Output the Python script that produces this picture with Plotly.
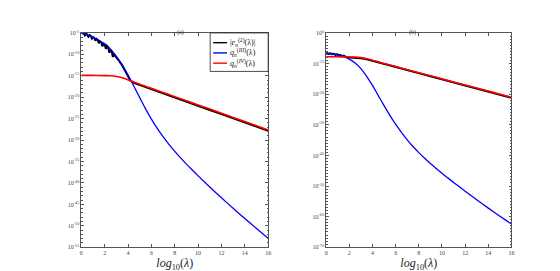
import plotly.graph_objects as go

# ---------------- data (log10 values) ----------------
# Panel (a)
a_x_blue = [0, 0.5, 1, 1.5, 2, 2.5, 3, 3.5, 4, 4.5, 5, 5.5, 6, 6.5, 7, 7.5, 8, 8.5,
            9, 9.5, 10, 10.5, 11, 11.5, 12, 12.5, 13, 13.5, 14, 14.5, 15, 15.5, 16]
a_log_q3 = [-5.10, -5.50, -6.05, -6.70, -7.55, -8.80, -10.45, -12.45, -14.85, -17.45,
            -20.10, -22.70, -25.10, -27.25, -29.20, -30.98, -32.62, -34.15, -35.60,
            -36.99, -38.34, -39.66, -40.95, -42.22, -43.47, -44.70, -45.91, -47.10,
            -48.27, -49.44, -50.61, -51.77, -52.92]

a_x_red = [0, 1, 2, 2.5, 3, 3.5, 4, 4.5, 5, 6, 7, 8, 9, 10, 11, 12, 13, 14, 15, 16]
a_log_q4 = [-14.9, -14.9, -14.95, -15.0, -15.15, -15.45, -15.95, -16.45, -16.95, -17.92,
            -18.89, -19.86, -20.83, -21.80, -22.77, -23.74, -24.71, -25.68, -26.65, -27.62]

a_x_black = [0, 0.1, 0.2, 0.3, 0.4, 0.5, 0.6, 0.7, 0.8, 0.9, 1.0, 1.1, 1.2, 1.3, 1.4, 1.5,
             1.6, 1.7, 1.8, 1.9, 2.0, 2.1, 2.2, 2.3, 2.4, 2.5, 2.6, 2.7, 2.8, 2.9, 3.0,
             3.25, 3.5, 3.75, 4.0, 4.2, 4.5, 5, 6, 7, 8, 9, 10, 11, 12, 13, 14, 15, 16]
a_log_e2 = [-4.95, -5.0, -5.05, -5.55, -5.2, -5.35, -5.85, -5.5, -5.65, -6.3, -5.95, -6.15,
            -6.8, -6.4, -6.6, -7.4, -7.0, -7.2, -8.1, -7.55, -7.7, -8.7, -8.05, -8.4,
            -9.6, -8.95, -9.35, -10.6, -10.0, -10.35, -10.65, -11.6, -12.6, -13.75, -14.95,
            -16.1, -16.65, -17.15, -18.12, -19.09, -20.06, -21.03, -22.0, -22.97, -23.94,
            -24.91, -25.88, -26.85, -27.82]

# Panel (b)
b_x_blue = [0, 0.5, 1, 1.5, 2, 2.5, 3, 3.5, 4, 4.5, 5, 5.5, 6, 6.5, 7, 7.5, 8, 8.5,
            9, 9.5, 10, 10.5, 11, 11.5, 12, 12.5, 13, 13.5, 14, 14.5, 15, 15.5, 16]
b_log_q3 = [-6.70, -6.90, -7.25, -7.75, -8.55, -9.85, -11.65, -14.15, -17.15, -20.45,
            -23.75, -26.90, -29.80, -32.45, -34.90, -37.10, -39.10, -40.95, -42.67,
            -44.29, -45.84, -47.34, -48.81, -50.26, -51.69, -53.10, -54.49, -55.86,
            -57.21, -58.54, -59.85, -61.14, -62.41]

b_x_red = [0, 1, 2, 2.5, 3, 3.5, 4, 4.5, 5, 6, 7, 8, 9, 10, 11, 12, 13, 14, 15, 16]
b_log_q4 = [-7.8, -7.8, -7.85, -7.9, -8.05, -8.4, -8.9, -9.45, -10.0, -11.0, -12.0, -13.0,
            -14.0, -15.0, -16.0, -17.0, -18.0, -19.0, -20.0, -21.0]

b_x_black = [0, 0.1, 0.2, 0.3, 0.4, 0.5, 0.6, 0.7, 0.8, 0.9, 1.0, 1.1, 1.2, 1.3, 1.4, 1.5,
             1.6, 1.7, 1.8, 2.0, 2.5, 3, 3.5, 4, 4.5, 5, 6, 7, 8, 9, 10, 11, 12, 13, 14, 15, 16]
b_log_e2 = [-6.55, -6.6, -6.9, -6.65, -6.7, -7.0, -6.8, -6.85, -7.2, -6.95, -7.0, -7.4,
            -7.15, -7.25, -7.6, -7.4, -7.55, -7.9, -7.95, -8.05, -8.1, -8.25, -8.6, -9.1,
            -9.65, -10.2, -11.2, -12.2, -13.2, -14.2, -15.2, -16.2, -17.2, -18.2, -19.2,
            -20.2, -21.2]

a_yticks = [-5, -10, -15, -20, -25, -30, -35, -40, -45, -50, -55]
b_yticks = [0, -10, -20, -30, -40, -50, -60, -70]
x_ticks = [0, 2, 4, 6, 8, 10, 12, 14, 16]

legend_labels = ["|<i>e</i><sub><i>n</i></sub><sup>(2)</sup>(λ)|",
                 "<i>q</i><sub><i>n</i></sub><sup>(<i>III</i>)</sup>(λ)",
                 "<i>q</i><sub><i>n</i></sub><sup>(<i>IV</i>)</sup>(λ)"]
legend_colors = ["black", "#0000ff", "#ff0000"]

# ---------------- figure ----------------
W, H = 560, 271
fig = go.Figure()

def px_x(p):
    return p / W

def px_y(p):
    return 1 - p / H

serif = "Liberation Serif"
axis_col = "#555555"
lbl_col = "#444444"

def pow10(vals):
    return [10.0 ** v for v in vals]

series = [
    ("x", "y", a_x_black, a_log_e2, a_x_blue, a_log_q3, a_x_red, a_log_q4),
    ("x2", "y2", b_x_black, b_log_e2, b_x_blue, b_log_q3, b_x_red, b_log_q4),
]
for xa, ya, xk, yk, xb, yb, xr, yr in series:
    fig.add_trace(go.Scatter(x=xk, y=pow10(yk), mode="lines",
                             line=dict(color="black", width=2.0),
                             showlegend=False, xaxis=xa, yaxis=ya))
    fig.add_trace(go.Scatter(x=xb, y=pow10(yb), mode="lines",
                             line=dict(color="#0000ff", width=1.3, shape="spline"),
                             showlegend=False, xaxis=xa, yaxis=ya))
    fig.add_trace(go.Scatter(x=xr, y=pow10(yr), mode="lines",
                             line=dict(color="#ff0000", width=1.6, shape="spline"),
                             showlegend=False, xaxis=xa, yaxis=ya))

def xaxis_cfg(domain, anchor):
    return dict(domain=domain, anchor=anchor, range=[0, 16], tickvals=x_ticks,
                ticks="inside", ticklen=3, tickcolor=axis_col, tickwidth=0.6,
                showline=True, linecolor=axis_col, linewidth=0.8, mirror="allticks",
                showgrid=False, zeroline=False,
                tickfont=dict(family=serif, size=6, color=lbl_col),
                title=dict(text="<i>log</i><sub>10</sub>(<i>λ</i>)",
                           font=dict(family=serif, size=12, color="#222222"),
                           standoff=2))

def yaxis_cfg(domain, anchor, rng, ticks):
    return dict(domain=domain, anchor=anchor, type="log", range=rng,
                tickvals=[10.0 ** t for t in ticks],
                ticktext=["10<sup>%d</sup>" % t for t in ticks],
                ticks="inside", ticklen=3, tickcolor=axis_col, tickwidth=0.6,
                showline=True, linecolor=axis_col, linewidth=0.8, mirror="allticks",
                showgrid=False, zeroline=False,
                tickfont=dict(family=serif, size=6, color=lbl_col),
                minor=dict(ticks="inside", ticklen=1.5, tickcolor=axis_col,
                           dtick=1, showgrid=False))

# hand-built legend (box, line samples, labels) in the top-right of panel (a)
shapes = [dict(type="rect", xref="paper", yref="paper",
               x0=px_x(202), x1=px_x(260.5), y0=px_y(61), y1=px_y(21.5),
               line=dict(color="#222222", width=0.8), fillcolor="white", layer="above")]
annotations = [
    dict(text="(a)", x=px_x(166), y=px_y(15), xref="paper", yref="paper",
         showarrow=False, font=dict(family=serif, size=6, color="#222222")),
    dict(text="(b)", x=px_x(412), y=px_y(15), xref="paper", yref="paper",
         showarrow=False, font=dict(family=serif, size=6, color="#222222")),
]
for i, (lab, col) in enumerate(zip(legend_labels, legend_colors)):
    yy = 31.5 + i * 10.5
    shapes.append(dict(type="line", xref="paper", yref="paper",
                       x0=px_x(205), x1=px_x(219), y0=px_y(yy), y1=px_y(yy),
                       line=dict(color=col, width=1.4), layer="above"))
    annotations.append(dict(text=lab, x=px_x(220), y=px_y(yy), xref="paper", yref="paper",
                            xanchor="left", yanchor="middle", showarrow=False,
                            font=dict(family=serif, size=8, color="#111111")))

ydom = [px_y(241.5), px_y(21.5)]
fig.update_layout(
    width=W, height=H,
    margin=dict(l=0, r=0, t=0, b=0),
    paper_bgcolor="white", plot_bgcolor="white",
    showlegend=False,
    xaxis=xaxis_cfg([px_x(72), px_x(260.5)], "y"),
    yaxis=yaxis_cfg(ydom, "x", [-55, -5], a_yticks),
    xaxis2=xaxis_cfg([px_x(319), px_x(506)], "y2"),
    yaxis2=yaxis_cfg(ydom, "x2", [-70, 0], b_yticks),
    shapes=shapes,
    annotations=annotations,
)

fig.write_html("out.html")
